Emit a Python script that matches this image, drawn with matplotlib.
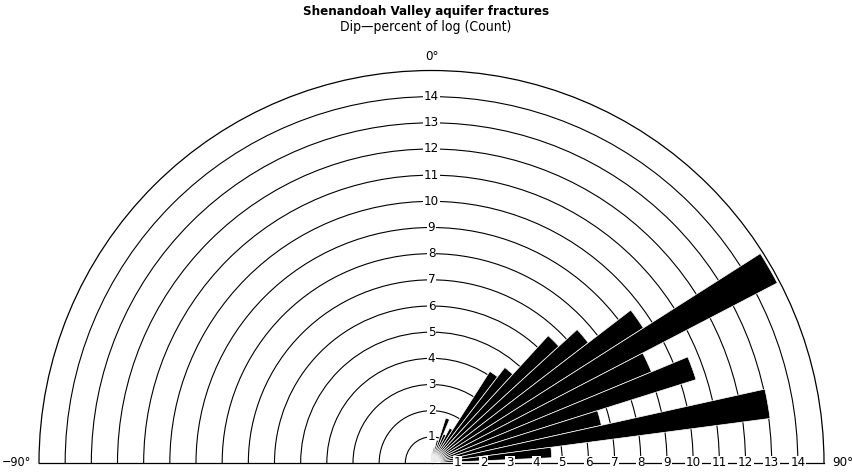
import numpy as np
import matplotlib
matplotlib.use('Agg')
import matplotlib.pyplot as plt

plt.rcParams['font.family'] = ['Liberation Sans Narrow', 'DejaVu Sans']
plt.rcParams['font.stretch'] = 'condensed'

# dip bins (degrees, bin centre) and percent of log
dip_deg = [0, 5, 10, 15, 20, 25, 30, 35, 40, 45, 50, 55, 60, 65, 70, 75, 80, 85]
percent = [0.3, 0.45, 0.6, 0.9, 1.8, 1.2, 1.5, 4.15, 4.6, 6.6, 7.55, 9.6,
           14.9, 9.1, 10.6, 6.65, 13.05, 4.6]
ring_values = list(range(1, 15))
r_max = 15

W, H = 852, 474
fig = plt.figure(figsize=(W / 100, H / 100), dpi=100)
# square box: the half disc is centred vertically in it
ax = fig.add_axes([39 / W, (11 + 196.25 - 392.5) / H, 785 / W, 785 / H], projection='polar')
ax.set_theta_zero_location('N')
ax.set_theta_direction(-1)
ax.set_thetamin(-90)
ax.set_thetamax(90)
ax.set_ylim(0, r_max)

# bars
ax.bar(np.deg2rad(dip_deg), percent, width=np.deg2rad(5), color='black',
       edgecolor='white', linewidth=0.5, zorder=3)

# rings
ax.set_rgrids(ring_values, labels=[''] * len(ring_values))
ax.yaxis.grid(True, color='black', linewidth=0.8)
ax.xaxis.grid(False)
ax.set_xticks([])
for s in ax.spines.values():
    s.set_color('black')
    s.set_linewidth(0.9)

# ring labels on the vertical and on the right baseline
for r in ring_values:
    for th in (0, np.pi / 2):
        ax.text(th, r, str(r), ha='center', va='center', fontsize=9.5, zorder=5,
                bbox=dict(facecolor='white', edgecolor='none', pad=0.6))

ax.text(0, 15.55, '0°', ha='center', va='center', fontsize=9.5, clip_on=False)
ax.text(np.pi / 2, 15.3, '90°', ha='left', va='center', fontsize=9.5, clip_on=False)
ax.text(-np.pi / 2, 15.3, '−90°', ha='right', va='center', fontsize=9, clip_on=False)

fig.text(0.5, 1 - 11 / H, 'Shenandoah Valley aquifer fractures', ha='center', va='center',
         fontsize=9.5, fontweight='bold')
fig.text(0.5, 1 - 27 / H, 'Dip—percent of log (Count)', ha='center', va='center', fontsize=10)

fig.savefig('out.png', dpi=100)
